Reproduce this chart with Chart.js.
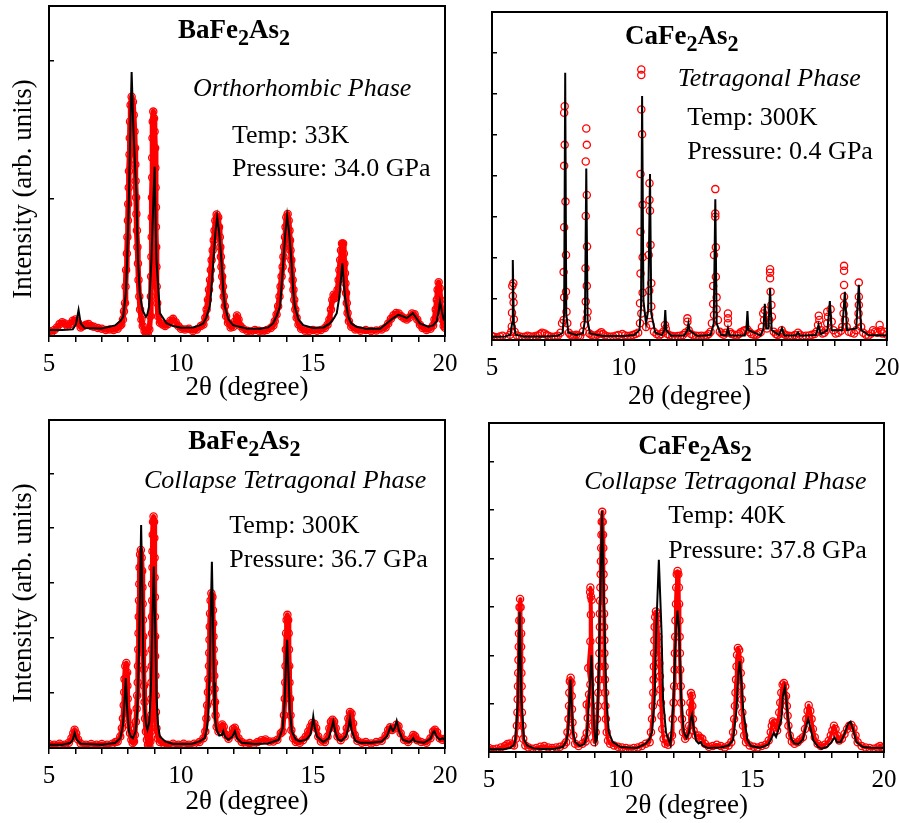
<!DOCTYPE html>
<html>
<head>
<meta charset="utf-8">
<script src="https://cdn.jsdelivr.net/npm/chart.js@4.4.1/dist/chart.umd.min.js"></script>
<style>
  body { margin: 0; background: #fff; }
  #wrap { position: relative; width: 899px; height: 823px; overflow: hidden;
          font-family: 'Liberation Serif', 'Times New Roman', serif; color: #000; }
  canvas { position: absolute; }
  .t { position: absolute; white-space: nowrap; line-height: 1; font-size: 26px; }
  .f { font-weight: bold; font-size: 27px; }
  .f sub { font-size: 0.82em; vertical-align: -0.31em; line-height: 0; }
  .i { font-style: italic; }
  .yl { position: absolute; white-space: nowrap; line-height: 1; font-size: 27px;
        transform: translate(-50%, -50%) rotate(-90deg); }
</style>
</head>
<body>
<div id="wrap">
  <div class="yl" style="left:22px; top:189px">Intensity (arb. units)</div>
  <div class="yl" style="left:22px; top:593px">Intensity (arb. units)</div>

  <div class="t f" style="left:178px; top:15.7px">BaFe<sub>2</sub>As<sub>2</sub></div>
  <div class="t i" style="left:193px; top:75px">Orthorhombic Phase</div>
  <div class="t" style="left:232px; top:121.5px">Temp: 33K</div>
  <div class="t" style="left:232px; top:155px">Pressure: 34.0 GPa</div>

  <div class="t f" style="left:625px; top:22.4px">CaFe<sub>2</sub>As<sub>2</sub></div>
  <div class="t i" style="left:677.7px; top:65px">Tetragonal Phase</div>
  <div class="t" style="left:687.3px; top:104.2px">Temp: 300K</div>
  <div class="t" style="left:687.3px; top:137.5px">Pressure: 0.4 GPa</div>

  <div class="t f" style="left:188.3px; top:427.4px">BaFe<sub>2</sub>As<sub>2</sub></div>
  <div class="t i" style="left:144px; top:466.5px">Collapse Tetragonal Phase</div>
  <div class="t" style="left:229.3px; top:511.5px">Temp: 300K</div>
  <div class="t" style="left:229.3px; top:546px">Pressure: 36.7 GPa</div>

  <div class="t f" style="left:638.3px; top:432.4px">CaFe<sub>2</sub>As<sub>2</sub></div>
  <div class="t i" style="left:584.3px; top:468.2px">Collapse Tetragonal Phase</div>
  <div class="t" style="left:668.3px; top:501.5px">Temp: 40K</div>
  <div class="t" style="left:668.3px; top:536.5px">Pressure: 37.8 GPa</div>
</div>
<script>
// x axis: 2theta in degrees, labelled every 5
const xTickLabels = [5, 10, 15, 20];

// --- BaFe2As2, orthorhombic, 33 K, 34.0 GPa (intensity in % of frame height)
const baOrthoFit = [[5.0,1.8],[5.5,1.8],[5.9,2.0],[6.02,3.5],[6.12,7.9],[6.2,3.8],[6.35,2.4],[7.0,2.3],[7.5,3.2],[7.7,4.5],
  [7.81,5.8],[7.91,13],[7.96,23],[8.03,43],[8.08,63],[8.13,80],[8.2,62],[8.31,43],[8.37,23],[8.44,13],[8.54,7.9],[8.67,5.8],
  [8.72,6.4],[8.79,8.9],[8.88,23],[8.94,38],[9.0,51.3],[9.03,38],[9.07,23],[9.2,6.9],[9.45,3.9],[9.7,3.0],[10.0,2.5],[10.46,2.6],
  [10.7,3.2],[10.84,3.8],[10.95,5.5],[11.09,8.9],[11.15,14],[11.22,22],[11.3,31],[11.37,36],[11.45,31],[11.54,22],[11.6,14],
  [11.66,8.9],[11.8,5],[11.97,3.3],[12.48,2.3],[13.0,2.2],[13.3,2.6],[13.49,3.8],[13.62,6],[13.75,8.9],[13.8,14],[13.87,22],
  [13.95,31],[14.02,36.4],[14.1,31],[14.19,22],[14.25,14],[14.31,8.9],[14.45,5],[14.63,3.3],[15.0,2.4],[15.4,2.6],[15.64,3.8],
  [15.8,5.5],[15.9,6.9],[16.0,11.9],[16.11,22],[16.21,11.9],[16.34,5.8],[16.45,3.8],[16.65,2.8],[17.0,2.2],[17.54,2.2],
  [17.79,3.8],[18.0,5.2],[18.23,6.4],[18.4,6.0],[18.55,5.4],[18.78,6.9],[18.9,5.6],[19.05,3.8],[19.37,2.8],[19.55,3.2],
  [19.69,4.5],[19.76,7.5],[19.81,10.4],[19.88,7.5],[19.95,5.0],[20.0,4.6]];
const baOrthoObs = [[5.0,1.5],[5.1,1.2],[5.2,1.8],[5.3,2.6],[5.4,3.6],[5.5,4.2],[5.6,3.8],[5.7,3.0],[5.8,3.6],[5.9,4.6],
  [6.0,5.0],[6.1,4.0],[6.2,2.6],[6.3,3.0],[6.4,3.4],[6.5,3.6],[6.6,3.0],[6.7,2.8],[6.85,2.4],[7.0,2.2],[7.15,1.8],[7.3,2.0],
  [7.45,1.8],[7.6,2.2],[7.7,3.2],[7.74,3.5],[7.8,5],[7.84,7.5],[7.88,10],[7.9,15],[7.92,20],[7.95,25],[7.97,30],[7.99,35],
  [8.0,40],[8.02,45],[8.03,50],[8.05,55],[8.06,60],[8.07,65],[8.09,70],[8.13,72.5],[8.18,71],[8.21,67],[8.24,62],[8.26,57],
  [8.27,52],[8.28,47],[8.3,42],[8.31,37],[8.33,32],[8.35,27],[8.37,22],[8.39,17],[8.42,12],[8.45,8],[8.5,5],[8.55,3],
  [8.62,1.5],[8.68,0.8],[8.74,0.6],[8.8,2],[8.84,6],[8.86,12],[8.87,18],[8.88,24],[8.89,30],[8.89,36],[8.9,42],[8.91,48],
  [8.91,54],[8.92,60],[8.93,65],[8.95,68],[8.98,66],[9.0,62],[9.02,57],[9.03,51],[9.04,45],[9.05,39],[9.05,33],[9.06,27],
  [9.07,21],[9.08,15],[9.1,10],[9.13,6],[9.2,4],[9.3,3.5],[9.4,3],[9.5,3.6],[9.6,4.6],[9.7,5.2],[9.8,4.2],[9.9,3],[10.0,2.2],
  [10.15,2.0],[10.3,2.2],[10.45,1.5],[10.6,2.0],[10.75,3.0],[10.85,3.5],[10.92,5.5],[10.97,8],[11.02,11],[11.06,14],[11.1,17],
  [11.13,20],[11.16,23],[11.2,26],[11.24,29],[11.27,32],[11.3,35],[11.35,36.8],[11.41,36],[11.44,33],[11.47,30],[11.49,27],
  [11.51,24],[11.53,21],[11.56,18],[11.59,15],[11.62,12],[11.66,9],[11.71,6],[11.78,4],[11.88,2.6],[11.98,2.8],[12.05,4.5],
  [12.12,6.2],[12.18,5],[12.25,3],[12.35,2.2],[12.5,1.6],[12.65,1.4],[12.8,1.8],[12.95,1.6],[13.1,1.4],[13.25,1.8],[13.4,2.4],
  [13.5,3.2],[13.55,4.5],[13.62,6.5],[13.68,9],[13.73,12],[13.77,15],[13.81,18],[13.85,21],[13.88,24],[13.91,27],[13.94,30],
  [13.96,33],[13.99,36],[14.04,37],[14.08,35],[14.11,32],[14.13,29],[14.15,26],[14.18,23],[14.2,20],[14.23,17],[14.26,14],
  [14.29,11],[14.33,8],[14.38,5.5],[14.45,3.5],[14.55,2.2],[14.7,1.6],[14.85,1.5],[15.0,1.8],[15.15,1.6],[15.3,1.8],
  [15.45,2.4],[15.55,3.4],[15.62,5],[15.68,8],[15.73,11],[15.78,12.5],[15.83,11.5],[15.88,12],[15.93,14],[15.97,17],[16.0,20],
  [16.03,23],[16.06,26],[16.1,28],[16.14,28],[16.17,25],[16.19,22],[16.21,19],[16.23,16],[16.25,13],[16.28,10],[16.31,7],
  [16.36,4.5],[16.45,2.8],[16.6,2.0],[16.8,1.6],[17.0,1.8],[17.2,1.5],[17.4,1.7],[17.6,2.0],[17.75,2.6],[17.85,3.8],
  [17.95,5.2],[18.05,6.3],[18.15,7],[18.25,6.8],[18.35,6.0],[18.45,5.4],[18.55,5.0],[18.65,5.6],[18.75,6.8],[18.85,6.6],
  [18.95,5.0],[19.05,3.4],[19.15,2.4],[19.3,1.8],[19.45,2.2],[19.55,3.2],[19.6,5],[19.65,8],[19.69,11],[19.72,14],
  [19.76,16.3],[19.8,14.5],[19.83,11],[19.86,8],[19.9,5],[19.95,3],[20.0,2.5]];

// --- CaFe2As2, tetragonal, 300 K, 0.4 GPa
const caTetFit = [[5.0,1.0],[5.5,1.1],[5.7,1.6],[5.76,5],[5.79,24.4],[5.83,5],[5.9,1.6],[6.2,1.1],[7.0,1.1],[7.5,1.3],
  [7.68,2.2],[7.74,8],[7.78,81.5],[7.82,8],[7.9,2.2],[8.2,1.5],[8.45,2],[8.53,6],[8.58,52.3],[8.63,6],[8.72,2],[9.2,1.2],
  [10.0,1.2],[10.4,1.5],[10.6,3],[10.66,10],[10.7,74.4],[10.75,12],[10.85,5],[10.93,9],[11.0,50.6],[11.05,8],[11.2,2.2],
  [11.45,1.5],[11.54,3],[11.58,9.1],[11.62,3],[11.8,1.3],[12.3,1.4],[12.41,2.8],[12.46,5.1],[12.51,2.8],[12.8,1.2],[13.3,1.5],
  [13.42,5],[13.48,42.9],[13.53,5],[13.7,1.6],[13.9,1.4],[13.96,3.6],[14.02,1.4],[14.6,1.4],[14.66,3],[14.7,8.8],[14.74,3],
  [15.2,1.4],[15.31,3.5],[15.36,11],[15.42,3.5],[15.5,3.5],[15.56,15.8],[15.62,3],[15.9,1.5],[16.01,3.6],[16.1,1.4],
  [16.55,1.4],[16.62,2.3],[16.7,1.3],[17.3,1.5],[17.4,4.6],[17.48,1.8],[17.74,3],[17.83,11.9],[17.9,3],[18.3,3],[18.4,14.7],
  [18.48,3],[18.83,3.5],[18.93,16.8],[19.02,3],[19.3,1.5],[20.0,1.4]];
const caTetObs = [[5.0,1.2],[5.1,0.9],[5.2,0.8],[5.3,1.1],[5.4,1.3],[5.55,1.0],[5.68,1.6],[5.73,2.5],[5.86,2.5],[5.75,4.1],
  [5.83,6.3],[5.76,8.3],[5.82,11.4],[5.79,13.4],[5.77,16.5],[5.81,17.3],[5.95,1.4],[6.05,1.1],[6.15,0.9],[6.25,1.0],
  [6.35,1.3],[6.45,1.1],[6.55,1.0],[6.65,1.2],[6.75,1.4],[6.83,1.8],[6.9,2.2],[7.0,2.0],[7.08,1.5],[7.15,1.2],[7.25,1.0],
  [7.35,0.9],[7.42,1.1],[7.5,1.3],[7.6,2.2],[7.66,5.1],[7.86,5.1],[7.72,6.1],[7.83,8.6],[7.74,13.0],[7.81,14.7],[7.72,20.7],
  [7.81,25.9],[7.74,34.4],[7.79,42.2],[7.74,53.1],[7.76,59.5],[7.74,69.3],[7.76,71.3],[7.92,2.2],[7.98,1.6],[8.05,1.3],
  [8.12,1.4],[8.2,1.6],[8.28,1.4],[8.35,1.2],[8.45,2.5],[8.5,4.6],[8.6,6.6],[8.63,8.6],[8.56,11.7],[8.6,16.5],[8.55,21.9],
  [8.61,28.5],[8.56,37.8],[8.6,44.2],[8.56,54.4],[8.6,59.5],[8.58,64.5],[8.7,2.0],[8.78,1.5],[8.85,1.2],[8.92,1.3],[9.0,1.6],
  [9.08,2.0],[9.15,2.4],[9.22,1.8],[9.3,1.4],[9.4,1.1],[9.5,1.0],[9.6,1.1],[9.7,1.3],[9.8,1.5],[9.95,1.8],[10.05,1.4],
  [10.15,1.2],[10.25,1.3],[10.35,1.5],[10.45,1.8],[10.55,2.2],[10.62,5.1],[10.67,8.1],[10.62,11.2],[10.72,14.4],[10.64,20.3],
  [10.72,25.2],[10.64,33],[10.72,41.2],[10.64,50.6],[10.7,62.7],[10.67,70.3],[10.67,80.8],[10.67,82.5],[10.85,4],[11.02,4.6],
  [10.97,7.6],[11.05,10.2],[10.97,15],[11.05,17.3],[10.95,25.9],[11.02,29],[11.0,39.4],[10.98,42.7],[10.98,47.8],[11.15,2.5],
  [11.25,1.8],[11.35,1.4],[11.43,1.8],[11.5,2.5],[11.57,4.6],[11.6,3.5],[11.67,1.8],[11.75,1.4],[11.85,1.2],[11.95,1.1],
  [12.05,1.2],[12.15,1.3],[12.25,1.5],[12.34,2.2],[12.42,6.6],[12.42,5.6],[12.47,3],[12.56,1.8],[12.65,1.4],[12.75,1.3],
  [12.85,1.2],[12.95,1.3],[13.05,1.2],[13.15,1.4],[13.23,1.8],[13.3,2.5],[13.35,5.1],[13.58,6.1],[13.43,7.6],[13.53,9.4],
  [13.4,11],[13.53,13],[13.4,16.5],[13.5,19.3],[13.43,25.9],[13.5,28.3],[13.48,37.6],[13.48,38.6],[13.48,46],[13.65,2.5],
  [13.72,2.0],[13.8,1.6],[13.88,2.2],[13.96,5.1],[13.96,6.6],[13.96,8.1],[14.04,2.4],[14.1,1.8],[14.2,1.6],[14.3,1.4],
  [14.38,1.8],[14.45,2.4],[14.55,2.8],[14.62,3.0],[14.7,3.2],[14.78,2.4],[14.85,1.8],[14.95,1.6],[15.05,1.6],[15.12,2.0],
  [15.2,2.4],[15.25,4.0],[15.3,8.1],[15.33,6.1],[15.36,9.1],[15.44,3.5],[15.53,6.1],[15.63,7.1],[15.61,10.7],[15.58,14.7],
  [15.56,18.8],[15.56,20.5],[15.56,21.6],[15.7,2.5],[15.78,1.8],[15.85,1.5],[15.93,2.0],[16.0,3.0],[16.07,2.0],[16.15,1.5],
  [16.25,1.3],[16.32,1.2],[16.4,1.2],[16.5,1.5],[16.62,2.2],[16.7,1.6],[16.8,1.2],[16.92,1.3],[17.05,1.4],[17.15,1.6],
  [17.25,1.8],[17.32,2.5],[17.38,4.6],[17.43,6.1],[17.41,7.4],[17.5,3.0],[17.55,2.0],[17.62,2.2],[17.68,3.0],[17.73,5.1],
  [17.76,7.1],[17.73,8.6],[17.86,9.4],[17.9,5.6],[17.97,3.0],[18.05,2.0],[18.15,2.2],[18.25,2.8],[18.3,4.0],[18.4,6.1],
  [18.35,8.1],[18.37,10.7],[18.37,13.2],[18.37,16.8],[18.37,21.1],[18.37,22.6],[18.47,4.0],[18.55,2.5],[18.65,2.2],[18.75,2.0],
  [18.83,3.0],[18.9,5.6],[18.92,8.1],[18.93,10.7],[18.93,13.2],[18.93,17.5],[19.02,4.0],[19.1,2.2],[19.2,1.6],[19.3,1.4],
  [19.4,2.0],[19.47,3],[19.55,2.5],[19.63,2.2],[19.72,4.6],[19.76,3.0],[19.83,2.0],[19.9,2.5],[20.0,1.6]];

// --- BaFe2As2, collapsed tetragonal, 300 K, 36.7 GPa
const baCtFit = [[5.0,1.0],[5.5,1.0],[5.8,1.5],[5.9,2.5],[5.97,4.6],[6.05,2.5],[6.2,1.3],[7.0,1.0],[7.5,1.5],[7.7,3],[7.8,7],
  [7.86,14],[7.91,21.3],[7.96,12],[8.03,5],[8.1,3.5],[8.18,3.0],[8.28,5],[8.35,12],[8.41,30],[8.45,50],[8.49,68],[8.53,50],
  [8.57,28],[8.62,12],[8.68,7],[8.73,5.6],[8.8,8],[8.86,18],[8.92,40],[8.97,55.3],[9.02,38],[9.07,16],[9.13,7],[9.2,3.5],
  [9.4,2],[9.7,1.2],[10.4,1.2],[10.7,2],[10.9,3],[10.98,6],[11.03,9.6],[11.08,22],[11.13,42],[11.17,56.8],[11.21,40],
  [11.25,20],[11.28,9.6],[11.35,5.5],[11.45,3.8],[11.55,4],[11.6,5.1],[11.66,3.5],[11.79,2.5],[11.95,3.5],[12.04,5.1],
  [12.12,3],[12.3,1.6],[12.8,1.2],[13.3,1.4],[13.7,2.5],[13.85,6],[13.93,15],[13.98,27],[14.02,33],[14.06,25],[14.12,12],
  [14.2,5],[14.35,2.6],[14.5,2.0],[14.75,2.6],[14.9,4],[14.97,7],[15.01,9.6],[15.06,6.5],[15.15,3.5],[15.39,1.8],[15.6,3],
  [15.7,6],[15.77,8.1],[15.84,5],[15.95,2.6],[16.08,2.2],[16.25,3.6],[16.35,6.5],[16.4,9.1],[16.46,5.5],[16.6,2.2],
  [16.78,1.6],[17.2,1.6],[17.6,2.0],[17.8,3.5],[17.94,6.6],[18.03,5.2],[18.1,6.2],[18.17,8.3],[18.25,5.5],[18.4,2.5],
  [18.65,1.8],[18.75,2.4],[18.8,3.0],[18.86,2.0],[19.2,1.6],[19.45,2.8],[19.55,4.8],[19.6,5.1],[19.68,3.5],[19.8,2.5],
  [19.9,3],[20.0,2.5]];
const baCtObs = [[5.0,1.2],[5.2,1.0],[5.4,1.3],[5.6,1.0],[5.75,1.6],[5.85,3],[5.92,4.5],[5.97,5.6],[6.03,4.4],[6.1,2.6],
  [6.2,1.4],[6.4,1.0],[6.6,1.2],[6.8,1.0],[7.0,1.2],[7.2,1.0],[7.4,1.3],[7.52,1.8],[7.6,2],[7.7,3.5],[7.76,6],[7.8,9],
  [7.83,13],[7.85,17],[7.86,21],[7.89,25],[7.93,25.9],[7.96,23],[7.97,19],[7.98,15],[8.0,11],[8.03,7],[8.07,4.5],[8.12,2.5],
  [8.17,1.5],[8.22,2],[8.25,4],[8.29,8],[8.32,12],[8.34,16],[8.36,20],[8.37,25],[8.38,30],[8.39,35],[8.4,40],[8.41,45],
  [8.42,50],[8.43,55],[8.45,59],[8.48,60.4],[8.51,58],[8.53,54],[8.54,49],[8.55,44],[8.56,39],[8.57,34],[8.58,29],[8.59,24],
  [8.6,19],[8.62,14],[8.64,9],[8.67,5],[8.71,2.5],[8.75,1],[8.8,0.6],[8.84,2],[8.86,5],[8.87,10],[8.88,15],[8.88,20],
  [8.89,25],[8.89,30],[8.9,35],[8.9,40],[8.91,45],[8.91,50],[8.92,55],[8.92,60],[8.93,65],[8.94,69],[8.96,70.6],[8.98,69],
  [8.99,64],[9.0,58],[9.0,52],[9.01,46],[9.01,40],[9.02,34],[9.02,28],[9.03,22],[9.04,16],[9.05,11],[9.07,6],[9.12,3],
  [9.2,1.8],[9.35,1.2],[9.5,1.0],[9.7,1.3],[9.9,1.0],[10.1,1.3],[10.3,1.0],[10.5,1.3],[10.7,1.8],[10.85,3],[10.92,5],
  [10.96,9],[10.99,13],[11.02,17],[11.04,21],[11.06,25],[11.07,29],[11.08,33],[11.09,37],[11.1,41],[11.12,45],[11.15,47.2],
  [11.19,46],[11.21,42],[11.22,38],[11.23,34],[11.24,30],[11.25,26],[11.26,22],[11.27,18],[11.29,14],[11.31,10],[11.35,6.5],
  [11.42,5],[11.5,6],[11.56,7.2],[11.62,6.5],[11.7,4],[11.8,2.8],[11.9,4],[11.97,5.8],[12.04,6.2],[12.1,5],[12.18,3],
  [12.3,1.8],[12.45,1.3],[12.6,1.5],[12.75,1.2],[12.9,1.8],[13.05,2.4],[13.2,2.6],[13.35,2.0],[13.5,2.0],[13.65,2.5],
  [13.78,4.5],[13.85,5],[13.9,10],[13.93,15],[13.95,20],[13.96,25],[13.97,30],[13.98,35],[14.0,39],[14.03,40.6],[14.06,39],
  [14.08,35],[14.09,30],[14.1,25],[14.11,20],[14.13,15],[14.15,10],[14.18,5.5],[14.25,3],[14.35,1.8],[14.5,1.6],[14.62,2.4],
  [14.72,3.4],[14.82,5],[14.9,6.5],[14.97,7.6],[15.05,7.4],[15.12,6],[15.2,3.5],[15.3,2],[15.45,1.8],[15.55,3.5],[15.62,6],
  [15.68,8],[15.74,8.6],[15.8,8],[15.86,6],[15.93,3.5],[16.05,2.4],[16.2,3.5],[16.28,6],[16.34,9],[16.4,11],[16.46,10.5],
  [16.52,7.5],[16.58,4],[16.68,2.2],[16.85,1.6],[17.0,1.8],[17.2,1.4],[17.4,1.8],[17.6,2.2],[17.75,3.8],[17.85,5.5],
  [17.92,6.3],[18.0,5.5],[18.08,6],[18.16,7.1],[18.24,6.6],[18.32,4.5],[18.45,2.5],[18.6,1.8],[18.72,2.8],[18.8,4],
  [18.87,3.6],[18.95,2.4],[19.1,1.8],[19.3,1.6],[19.45,3],[19.55,5],[19.62,5.6],[19.7,4.8],[19.8,3],[19.9,2.5],[20.0,2.8]];

// --- CaFe2As2, collapsed tetragonal, 40 K, 37.8 GPa
const caCtFit = [[5.0,0.8],[5.5,0.8],[5.8,1.2],[5.95,2.2],[6.0,3.8],[6.1,16],[6.165,42.6],[6.23,16],[6.33,3.8],[6.45,2],
  [6.7,1.1],[7.0,0.9],[7.5,1.0],[7.8,1.5],[7.93,3.2],[8.0,5.9],[8.05,14],[8.09,22],[8.14,14],[8.19,5.9],[8.28,3],[8.45,1.8],
  [8.62,2.4],[8.72,5],[8.8,16],[8.89,29.5],[8.95,18],[8.99,8],[9.05,2.8],[9.1,4],[9.14,16],[9.2,37],[9.29,73.3],[9.39,37],
  [9.46,16],[9.55,6],[9.7,3],[10.0,1.5],[10.6,1.2],[10.95,2.5],[11.1,4],[11.19,6],[11.29,16],[11.35,37],[11.45,58.4],
  [11.55,37],[11.61,16],[11.72,6],[11.89,2.2],[12.01,16],[12.1,37],[12.16,43],[12.22,37],[12.3,16],[12.4,6],[12.5,4.3],
  [12.6,6],[12.66,10],[12.71,11.4],[12.76,8],[12.86,3.5],[12.96,2.6],[13.04,3],[13.12,2],[13.3,1.2],[13.8,1.4],[14.1,2],
  [14.27,3.7],[14.4,13],[14.47,24],[14.52,27.6],[14.58,22],[14.65,13],[14.81,3.7],[14.95,1.8],[15.3,1.3],[15.6,2.2],
  [15.73,4.2],[15.81,5.8],[15.9,4.6],[16.0,7],[16.1,10],[16.16,17],[16.23,19.6],[16.29,16],[16.36,9.8],[16.48,4],[16.6,2.6],
  [16.75,2.4],[16.92,3.8],[17.03,7.5],[17.12,10],[17.2,7.5],[17.32,3.5],[17.5,1.5],[17.63,1.0],[17.85,1.6],[18.0,3],
  [18.13,4.4],[18.22,3],[18.35,3],[18.5,5.5],[18.63,8.5],[18.73,9.2],[18.82,7],[18.95,3],[19.2,1.5],[19.5,1.3],[20.0,1.2]];
const caCtObs = [[5.0,1.2],[5.15,0.8],[5.3,1.0],[5.45,1.4],[5.6,1.8],[5.7,2.4],[5.8,2.6],[5.88,2.2],[5.95,2],[6.02,4],
  [6.06,8],[6.08,12],[6.09,16],[6.1,20],[6.11,24],[6.12,28],[6.13,32],[6.14,36],[6.15,40],[6.16,44],[6.18,46.5],[6.2,44],
  [6.21,40],[6.22,36],[6.22,32],[6.23,28],[6.23,24],[6.24,20],[6.24,16],[6.25,12],[6.27,8],[6.3,4],[6.38,2],[6.5,1.4],
  [6.65,1.0],[6.8,1.2],[6.95,1.6],[7.1,1.8],[7.25,1.4],[7.4,1.2],[7.55,1.4],[7.7,1.6],[7.85,2.2],[7.93,3],[7.98,6],[8.02,10],
  [8.04,14],[8.05,18],[8.07,21.5],[8.1,22.6],[8.13,21],[8.14,17],[8.15,13],[8.17,9],[8.2,5],[8.27,2.5],[8.4,1.8],[8.55,2.5],
  [8.65,4],[8.67,3.2],[8.71,5.8],[8.75,10.3],[8.71,14.4],[8.8,17.5],[8.85,20.5],[8.77,25.5],[8.85,33.6],[8.87,41.7],
  [8.84,48.6],[8.85,50],[8.9,46.3],[8.87,47.3],[8.94,8],[9.0,3],[9.05,6],[9.1,10],[9.13,14],[9.15,18],[9.17,22],[9.18,26],
  [9.19,30],[9.2,34],[9.21,38],[9.21,42],[9.22,46],[9.23,50],[9.24,54],[9.25,58],[9.26,62],[9.27,66],[9.28,70],[9.3,73],
  [9.32,70],[9.33,66],[9.34,62],[9.35,58],[9.35,54],[9.36,50],[9.36,46],[9.37,42],[9.37,38],[9.38,34],[9.38,30],[9.39,26],
  [9.4,22],[9.41,18],[9.42,14],[9.44,10],[9.47,6],[9.52,3.5],[9.6,2.5],[9.75,2],[9.9,1.6],[10.05,1.4],[10.2,1.2],[10.35,1.0],
  [10.5,1.2],[10.65,1.4],[10.8,1.8],[10.95,2.5],[11.1,3],[11.15,6],[11.19,10],[11.22,14],[11.24,18],[11.25,22],[11.26,26],
  [11.27,30],[11.28,34],[11.29,38],[11.31,41],[11.34,42.7],[11.38,42],[11.41,39],[11.43,35],[11.45,31],[11.47,27],[11.49,23],
  [11.51,19],[11.53,15],[11.55,11],[11.58,7],[11.63,4],[11.7,2.5],[11.8,2.2],[11.9,3],[11.95,5],[11.98,10],[12.01,15],
  [12.03,20],[12.05,25],[12.06,30],[12.07,35],[12.08,40],[12.1,45],[12.11,50],[12.13,54],[12.16,55],[12.19,54],[12.21,50],
  [12.22,45],[12.23,40],[12.24,35],[12.25,30],[12.26,25],[12.28,20],[12.3,15],[12.33,10],[12.37,6],[12.45,4],[12.55,5],
  [12.6,8],[12.63,12],[12.65,15],[12.67,17.9],[12.7,17],[12.72,14],[12.74,10],[12.77,6.5],[12.85,5],[12.95,5],[13.02,4.3],
  [13.1,4],[13.2,2.5],[13.35,1.6],[13.5,1.8],[13.65,2.2],[13.8,1.8],[13.95,1.4],[14.1,2],[14.2,3],[14.27,6],[14.31,10],
  [14.34,14],[14.36,18],[14.38,22],[14.4,26],[14.42,29.5],[14.45,31.6],[14.5,31],[14.54,28],[14.56,24],[14.58,20],[14.6,16],
  [14.62,12],[14.65,8],[14.69,5],[14.76,3],[14.9,2],[15.05,1.6],[15.2,1.4],[15.35,1.8],[15.5,2.2],[15.62,3.5],[15.7,6],
  [15.74,8],[15.78,9.3],[15.83,8.8],[15.88,7.5],[15.94,6.5],[15.98,9],[16.02,12],[16.06,15],[16.1,18],[16.15,20.5],[16.2,21],
  [16.25,20],[16.28,17],[16.31,14],[16.34,11],[16.37,8],[16.42,5],[16.5,3.2],[16.6,2.5],[16.72,3],[16.82,3.8],[16.92,4.5],
  [17.0,7],[17.05,10],[17.1,12.5],[17.14,14.2],[17.2,12.5],[17.25,10],[17.3,7],[17.37,4.5],[17.48,2.5],[17.6,1.8],[17.75,2.2],
  [17.9,3.4],[17.98,5],[18.04,6.5],[18.1,8],[18.16,7],[18.22,5],[18.3,3.5],[18.4,4],[18.5,5.5],[18.6,7],[18.68,8],[18.76,8.2],
  [18.84,7.2],[18.92,5],[19.0,3],[19.15,1.8],[19.3,1.4],[19.45,1.2],[19.6,1.0],[19.75,1.4],[19.85,1.8],[19.95,1.4],[20.0,1.2]];

const FONT = "'Liberation Serif', 'Times New Roman', serif";
const RED = 'rgb(255,0,0)';

// pos: canvas left, top, width, height; area: plot frame left, top, right, bottom inside the canvas
const PANELS = [
  { fit: baOrthoFit, obs: baOrthoObs, pos: [0, 0, 470, 420],   area: [49, 6, 445, 336],  axisH: 65, yStep: 41.7, obsLine: 5.5 },
  { fit: caTetFit,   obs: caTetObs,   pos: [455, 0, 444, 420], area: [37, 12, 432, 340], axisH: 70, yStep: 12.5, obsLine: 0 },
  { fit: baCtFit,    obs: baCtObs,    pos: [0, 405, 470, 418], area: [49, 15, 445, 343], axisH: 67, yStep: 16.75, obsLine: 5 },
  { fit: caCtFit,    obs: caCtObs,    pos: [455, 405, 444, 418], area: [34, 18, 429, 347], axisH: 67, yStep: 14.7, obsLine: 3.5 }
];

const frame = {
  id: 'frame',
  afterDraw(c) {
    const { left, top, right, bottom } = c.chartArea;
    const ctx = c.ctx;
    ctx.save();
    ctx.strokeStyle = '#000';
    ctx.lineWidth = 2;
    ctx.strokeRect(left, top, right - left, bottom - top);
    ctx.restore();
  }
};

const toXY = arr => arr.map(([x, y]) => ({ x, y }));

PANELS.forEach(makePanel);

function makePanel(p) {
  const [cx, cy, w, h] = p.pos;
  const [l, t, r, b] = p.area;
  const cv = document.createElement('canvas');
  cv.width = w; cv.height = h;
  cv.style.left = cx + 'px'; cv.style.top = cy + 'px';
  document.getElementById('wrap').prepend(cv);

  new Chart(cv, {
    type: 'scatter',
    data: {
      datasets: [
        { data: toXY(p.fit), showLine: true, borderColor: '#000', borderWidth: 2, pointRadius: 0, tension: 0 },
        { data: toXY(p.obs), showLine: p.obsLine > 0, borderColor: RED, borderWidth: p.obsLine, borderJoinStyle: 'round',
          pointRadius: 3.6, pointBorderWidth: 1.3, pointBorderColor: RED, pointBackgroundColor: 'rgba(0,0,0,0)' }
      ]
    },
    options: {
      responsive: false,
      animation: false,
      events: [],
      layout: { autoPadding: false, padding: { left: 0, top: t, right: w - r, bottom: h - b - p.axisH } },
      plugins: { legend: { display: false }, tooltip: { enabled: false } },
      scales: {
        x: {
          type: 'linear', min: 5, max: 20,
          ticks: { stepSize: 1, autoSkip: false, maxRotation: 0, padding: 7, color: '#000',
                   font: { family: FONT, size: 25 },
                   callback: v => xTickLabels.includes(v) ? String(v) : '' },
          grid: { drawOnChartArea: false, drawTicks: true, tickLength: 6, color: '#000', lineWidth: 1.5 },
          border: { display: true, color: '#000', width: 2 },
          title: { display: true, text: '2θ (degree)', color: '#000', padding: 0,
                   font: { family: FONT, size: 27, lineHeight: 1 } },
          afterFit: s => { s.height = p.axisH; s.paddingLeft = 0; s.paddingRight = 0; }
        },
        y: {
          min: 0, max: 100,
          afterBuildTicks: s => {
            const ticks = [];
            for (let v = 0; v < 100; v += p.yStep) ticks.push({ value: v });
            s.ticks = ticks;
          },
          ticks: { display: false },
          grid: { drawOnChartArea: false, drawTicks: true, tickLength: -5, color: '#000', lineWidth: 1.5 },
          border: { display: true, color: '#000', width: 2 },
          afterFit: s => { s.width = l; }
        }
      }
    },
    plugins: [frame]
  });
}
</script>
</body>
</html>
